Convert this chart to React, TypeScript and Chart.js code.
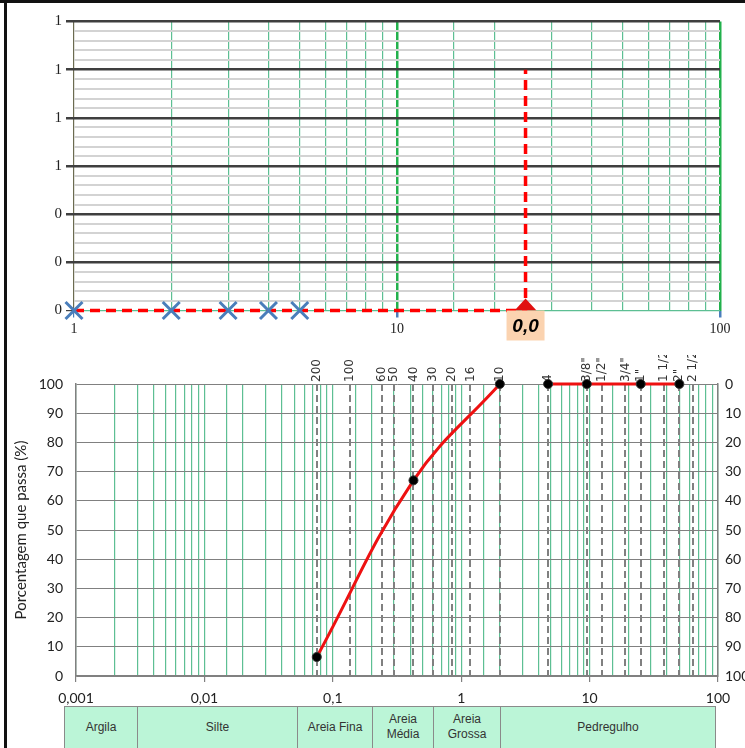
import React, { useEffect, useRef } from 'react';
import { Chart, registerables } from 'chart.js';
Chart.register(...registerables);

// ---------- top chart data ----------
const topMarkerX = [1, 2, 3, 4, 5];
const topMarkerY = [0, 0, 0, 0, 0];
const guideX = [1, 25, 25];
const guideY = [0, 0, 1.0];
const resultX = [25];
const resultY = [0];
const resultLabel = '0,0';

// ---------- bottom chart data ----------
const sieveLabels = ['200', '100', '60', '50', '40', '30', '20', '16', '10', '4', '3/8"', '1/2"', '3/4"', '1"', '1 1/2', '2"', '2 1/2'];
const sieveSizes = [0.075, 0.136, 0.24, 0.3, 0.425, 0.6, 0.85, 1.18, 2.0, 4.75, 9.5, 12.5, 19, 25, 38, 50, 63.5];
const passSizes = [0.075, 0.425, 2.0, 3.0, 4.75, 9.5, 25, 50];
const passPercent: (number | null)[] = [6.5, 67, 100, null, 100, 100, 100, 100];
const yTitle = 'Porcentagem que passa (%)';
const soilClasses = ['Argila', 'Silte', 'Areia Fina', 'Areia\nMédia', 'Areia\nGrossa', 'Pedregulho'];
const soilCellWidths = [74, 160, 75, 61, 67, 215];

const isPow10 = (v: number) => Math.abs(Math.log10(v) - Math.round(Math.log10(v))) < 1e-6;
const isMajor02 = (v: number) => Math.abs(v / 0.2 - Math.round(v / 0.2)) < 1e-6;
const fmtComma = (v: number) => String(Number(v.toPrecision(6))).replace('.', ',');

const GREEN = '#5dbf93';
const GREEN_MAJOR = '#22b14c';

export default function App() {
  const topRef = useRef<HTMLCanvasElement>(null);
  const botRef = useRef<HTMLCanvasElement>(null);

  useEffect(() => {
    const resultBox = {
      id: 'resultBox',
      afterDatasetsDraw(chart: any) {
        const { ctx, scales } = chart;
        const x = scales.x.getPixelForValue(resultX[0]);
        const y = scales.y.getPixelForValue(resultY[0]);
        ctx.save();
        // triangle marker
        ctx.fillStyle = '#e01010';
        ctx.beginPath();
        ctx.moveTo(x, y - 12);
        ctx.lineTo(x + 11, y);
        ctx.lineTo(x - 11, y);
        ctx.closePath();
        ctx.fill();
        // label box
        ctx.fillStyle = '#fbd3b0';
        ctx.fillRect(x - 19, y, 38, 30);
        ctx.fillStyle = '#000';
        ctx.font = 'italic bold 19px "Liberation Sans", Arial, sans-serif';
        ctx.textAlign = 'center';
        ctx.textBaseline = 'middle';
        ctx.fillText(resultLabel, x, y + 16);
        ctx.restore();
      },
    };

    const top = new Chart(topRef.current!, {
      type: 'line',
      data: {
        datasets: [
          {
            data: guideX.map((x, i) => ({ x, y: guideY[i] })),
            borderColor: '#ff0000',
            borderWidth: 3.5,
            borderDash: [10, 6],
            pointRadius: 0,
            tension: 0,
            clip: false,
            order: 2,
          },
          {
            data: topMarkerX.map((x, i) => ({ x, y: topMarkerY[i] })),
            showLine: false,
            pointStyle: 'crossRot',
            pointRadius: 12,
            pointBorderWidth: 3,
            pointBorderColor: '#4a7ebb',
            clip: false,
            order: 1,
          },
        ],
      },
      options: {
        animation: false,
        responsive: false,
        maintainAspectRatio: false,
        layout: { padding: { top: 21.5, right: 25, left: 0, bottom: 0 } },
        plugins: { legend: { display: false }, tooltip: { enabled: false } },
        scales: {
          x: {
            type: 'logarithmic',
            min: 1,
            max: 100,
            afterFit: (s: any) => { s.height = 34.5; },
            border: { display: false },
            grid: {
              color: (c: any) => (c.tick && c.tick.value === 1 ? '#6b6b50' : isPow10(c.tick.value) ? GREEN_MAJOR : GREEN),
              lineWidth: (c: any) => (c.tick && isPow10(c.tick.value) && c.tick.value !== 1 ? 2.5 : 1.2),
              tickColor: (c: any) => (isPow10(c.tick.value) ? '#4a7ebb' : 'transparent'),
              tickLength: 7,
            },
            ticks: {
              autoSkip: false,
              maxRotation: 0,
              padding: 3,
              color: '#222',
              font: { family: '"Liberation Serif", serif', size: 14 },
              callback: (v: any) => (isPow10(Number(v)) ? String(Number(v)) : ''),
            },
          },
          y: {
            type: 'linear',
            min: 0,
            max: 1.2,
            afterFit: (s: any) => { s.width = 74; },
            border: { display: false },
            grid: {
              color: (c: any) => {
                const v = c.tick.value;
                if (Math.abs(v) < 1e-9) return GREEN;
                return isMajor02(v) ? '#3f3f3f' : '#d3d3d3';
              },
              lineWidth: (c: any) => {
                const v = c.tick.value;
                if (Math.abs(v) < 1e-9) return 1.2;
                return isMajor02(v) ? 2.5 : 2;
              },
              tickColor: (c: any) => (isMajor02(c.tick.value) ? '#3f3f3f' : 'transparent'),
              tickLength: 8,
            },
            ticks: {
              stepSize: 0.04,
              autoSkip: false,
              padding: 4,
              color: '#222',
              font: { family: '"Liberation Serif", serif', size: 15 },
              callback: (v: any) => {
                const n = Number(v);
                return isMajor02(n) ? String(Math.round(n)) : '';
              },
            },
          },
        },
      },
      plugins: [resultBox],
    } as any);

    const sievePlugin = {
      id: 'sieves',
      beforeDatasetsDraw(chart: any) {
        const { ctx, chartArea, scales } = chart;
        ctx.save();
        ctx.strokeStyle = '#808080';
        ctx.lineWidth = 2;
        ctx.setLineDash([7, 4]);
        sieveSizes.forEach((s) => {
          const x = Math.round(scales.x.getPixelForValue(s));
          ctx.beginPath();
          ctx.moveTo(x, chartArea.top);
          ctx.lineTo(x, chartArea.bottom);
          ctx.stroke();
        });
        ctx.setLineDash([]);
        ctx.fillStyle = '#333';
        ctx.font = '12px "DejaVu Sans", sans-serif';
        ctx.textAlign = 'left';
        ctx.textBaseline = 'middle';
        sieveSizes.forEach((s, i) => {
          const x = scales.x.getPixelForValue(s);
          ctx.save();
          ctx.translate(x, chartArea.top - 2);
          ctx.rotate(-Math.PI / 2);
          ctx.fillText(sieveLabels[i], 0, 0);
          ctx.restore();
        });
        ctx.restore();
      },
    };

    const bot = new Chart(botRef.current!, {
      type: 'line',
      data: {
        datasets: [
          {
            data: passSizes.map((x, i) => ({ x, y: passPercent[i] })),
            borderColor: '#ee1111',
            borderWidth: 3,
            tension: 0.4,
            spanGaps: false,
            clip: false,
            pointRadius: 4.5,
            pointBackgroundColor: '#000',
            pointBorderColor: '#333',
            pointBorderWidth: 1,
          },
        ],
      },
      options: {
        animation: false,
        responsive: false,
        maintainAspectRatio: false,
        layout: { padding: { top: 29, right: 0, left: 0, bottom: 0 } },
        plugins: { legend: { display: false }, tooltip: { enabled: false } },
        scales: {
          x: {
            type: 'logarithmic',
            min: 0.001,
            max: 100,
            afterFit: (s: any) => { s.height = 30; },
            border: { display: true, color: '#808080', width: 1.5 },
            grid: {
              color: GREEN,
              lineWidth: 1.2,
              tickColor: (c: any) => (isPow10(c.tick.value) ? '#808080' : 'transparent'),
              tickLength: 6,
            },
            ticks: {
              autoSkip: false,
              maxRotation: 0,
              padding: 8,
              color: '#222',
              font: { family: 'Lato, "Liberation Sans", sans-serif', size: 14 },
              callback: (v: any) => (isPow10(Number(v)) ? fmtComma(Number(v)) : ''),
            },
          },
          y: {
            type: 'linear',
            position: 'left',
            min: 0,
            max: 100,
            afterFit: (s: any) => { s.width = 76; },
            border: { display: true, color: '#808080', width: 1.5 },
            grid: { color: '#808080', lineWidth: 1, drawTicks: false },
            ticks: {
              stepSize: 10,
              padding: 13,
              color: '#222',
              font: { family: 'Lato, "Liberation Sans", sans-serif', size: 14 },
            },
            title: {
              display: true,
              text: yTitle,
              color: '#222',
              padding: { top: 12, bottom: 0 },
              font: { family: 'Lato, "Liberation Sans", sans-serif', size: 15 },
            },
          },
          y2: {
            type: 'linear',
            position: 'right',
            reverse: true,
            min: 0,
            max: 100,
            afterFit: (s: any) => { s.width = 27; },
            border: { display: true, color: '#808080', width: 1.5 },
            grid: { drawOnChartArea: false, drawTicks: false },
            ticks: {
              stepSize: 10,
              padding: 7,
              color: '#222',
              font: { family: 'Lato, "Liberation Sans", sans-serif', size: 14 },
            },
          },
        },
      },
      plugins: [sievePlugin],
    } as any);

    return () => {
      top.destroy();
      bot.destroy();
    };
  }, []);

  return (
    <div style={{ position: 'absolute', left: 0, top: 0, width: 745, height: 748, overflow: 'hidden', background: '#fff' }}>
      <div style={{ position: 'absolute', left: 0, top: 0, width: 745, height: 3, background: '#111' }} />
      <div style={{ position: 'absolute', left: 4, top: 0, width: 3, height: 748, background: '#111' }} />
      <canvas ref={topRef} width={745} height={345} style={{ position: 'absolute', left: 0, top: 0 }} />
      <canvas ref={botRef} width={745} height={351} style={{ position: 'absolute', left: 0, top: 355 }} />
      <div
        style={{
          position: 'absolute',
          left: 64,
          top: 706,
          display: 'flex',
          height: 50,
          fontFamily: '"Liberation Sans Narrow", "Liberation Sans", Arial, sans-serif',
          fontSize: 12,
          color: '#333',
        }}
      >
        {soilClasses.map((c, i) => (
          <div
            key={c}
            style={{
              width: soilCellWidths[i],
              boxSizing: 'border-box',
              background: '#bbf5d7',
              border: '1px solid #8a8a8a',
              borderLeftWidth: i === 0 ? 1 : 0,
              display: 'flex',
              alignItems: 'flex-start',
              justifyContent: 'center',
              textAlign: 'center',
              whiteSpace: 'pre-line',
              lineHeight: '15px',
              paddingTop: c.includes('\n') ? 5 : 13,
            }}
          >
            {c}
          </div>
        ))}
      </div>
    </div>
  );
}
